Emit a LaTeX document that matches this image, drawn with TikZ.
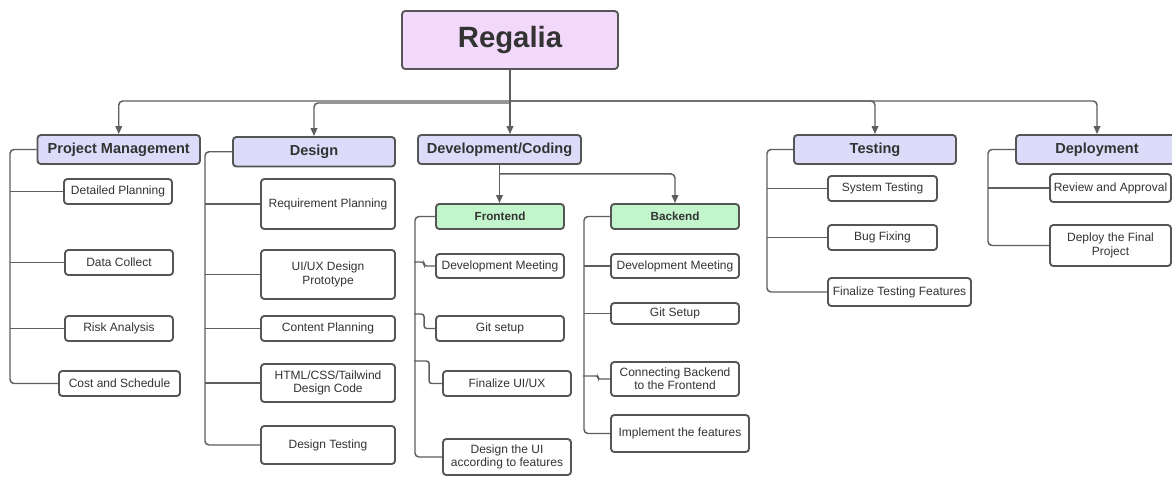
\documentclass[tikz,border=0pt]{standalone}
\usepackage{fontspec}
\setmainfont{Liberation Sans}
\usetikzlibrary{arrows.meta,calc}
\definecolor{ink}{HTML}{333333}
\definecolor{edge}{HTML}{555555}
\definecolor{wirec}{HTML}{5E5E5E}
\definecolor{rootfill}{HTML}{F2D8FA}
\definecolor{phasefill}{HTML}{DCDCFA}
\definecolor{subfill}{HTML}{C2F5CC}
\tikzset{
  sz/.style 2 args={minimum width=#1*0.75pt, minimum height=#2*0.75pt},
  boxbase/.style={draw=edge, line width=1.4pt, rounded corners=2.5pt, fill=white,
    text=ink, inner sep=1pt, align=center},
  task/.style={boxbase, font=\fontsize{9}{10}\selectfont},
  phase/.style={boxbase, fill=phasefill, font=\fontsize{10.9}{12}\selectfont\bfseries},
  subbox/.style={boxbase, fill=subfill, font=\fontsize{8.8}{10}\selectfont\bfseries},
  rootbox/.style={boxbase, fill=rootfill, font=\fontsize{22}{26}\selectfont\bfseries},
  wire/.style={draw=wirec, line width=1.1pt, rounded corners=3pt},
  feed/.style={wire, -{Triangle[length=6pt,width=5pt]}},
}
\begin{document}
\begin{tikzpicture}[x=0.75pt, y=-0.75pt]
\useasboundingbox[fill=white] (0,0) rectangle (1172,476);

% root and phases
\node[rootbox, sz={216}{58}] (root) at (510,40) {Regalia};
\node[phase, sz={162.5}{29}] (pm)  at (118.75,149.5) {Project Management};
\node[phase, sz={162}{29.5}] (des) at (314,151.75) {Design};
\node[phase, sz={163}{29}]   (dev) at (499.5,149.5) {Development/Coding};
\node[phase, sz={162}{29}]   (tst) at (875,149.5) {Testing};
\node[phase, sz={162}{29}]   (dep) at (1097,149.5) {Deployment};

% project management tasks
\node[task, sz={108}{25}] (pm1) at (118,191.5) {Detailed Planning};
\node[task, sz={108}{25}] (pm2) at (119,262.5) {Data Collect};
\node[task, sz={108}{25}] (pm3) at (119,328.5) {Risk Analysis};
\node[task, sz={121}{25}] (pm4) at (119.5,383.5) {Cost and Schedule};

% design tasks
\node[task, sz={134}{50}] (des1) at (328,204) {Requirement Planning};
\node[task, sz={134}{49}] (des2) at (328,274.5) {UI/UX Design\\Prototype};
\node[task, sz={134}{25}] (des3) at (328,328.5) {Content Planning};
\node[task, sz={134}{38}] (des4) at (328,383) {HTML/CSS/Tailwind\\Design Code};
\node[task, sz={134}{38}] (des5) at (328,445) {Design Testing};

% development sub-phases
\node[subbox, sz={128}{25}] (fe) at (500,216.5) {Frontend};
\node[subbox, sz={128}{25}] (be) at (675,216.5) {Backend};

\node[task, sz={128}{24}] (fe1) at (500,266) {Development Meeting};
\node[task, sz={128}{25}] (fe2) at (500,328.5) {Git setup};
\node[task, sz={128}{25}] (fe3) at (507,383.5) {Finalize UI/UX};
\node[task, sz={128}{36}] (fe4) at (507,457) {Design the UI\\according to features};

\node[task, sz={128}{24}] (be1) at (675,266) {Development Meeting};
\node[task, sz={128}{21}] (be2) at (675,313.5) {Git Setup};
\node[task, sz={128}{34}] (be3) at (675,379) {Connecting Backend\\to the Frontend};
\node[task, sz={138}{37}] (be4) at (680,433.5) {Implement the features};

% testing tasks
\node[task, sz={109}{25}] (t1) at (882.5,188.5) {System Testing};
\node[task, sz={109}{25}] (t2) at (882.5,237.5) {Bug Fixing};
\node[task, sz={143}{28}] (t3) at (899.5,292) {Finalize Testing Features};

% deployment tasks
\node[task, sz={121}{28}] (d1) at (1110.5,188) {Review and Approval};
\node[task, sz={121}{41}] (d2) at (1110.5,245.5) {Deploy the Final\\Project};

% rail positions
\coordinate (bus) at (510,101);
\coordinate (bus2) at (510,103);
\coordinate (pmx) at (10,0);
\coordinate (desx) at (205,0);
\coordinate (fex) at (415,0);
\coordinate (bex) at (584,0);
\coordinate (tstx) at (767,0);
\coordinate (depx) at (988,0);
\coordinate (split) at ($(dev.south)+(0,9)$);

% root to phases
\draw[wire] (root.south) -- (bus);
\draw[feed] (bus) -| (pm.north);
\draw[feed] (bus2) -| (des.north);
\draw[feed] (bus) -- (bus |- dev.north);
\draw[feed] (bus) -| (tst.north);
\draw[feed] (bus) -| (dep.north);

% development to sub-phases
\draw[feed] (dev.south) -- (dev.south |- fe.north);
\draw[feed] (split) -| (be.north);

% project management rail
\draw[wire] (pm.west) -| (pmx |- pm4.west) -- (pm4.west);
\foreach \n in {pm1,pm2,pm3} \draw[wire] (\n.west) -- (\n.west -| pmx);

% design rail
\draw[wire] (des.west) -| (desx |- des5.west) -- (des5.west);
\foreach \n in {des1,des2,des3,des4} \draw[wire] (\n.west) -- (\n.west -| desx);

% frontend rail
\draw[wire] (fe.west) -| (fex |- fe4.west) -- (fe4.west);
\draw[wire, rounded corners=2pt] (fe1.west) -- ++(-11,0) -- ++(0,-4) -- ++(-10,0);
\draw[wire, rounded corners=2pt] (fe2.west) -- ++(-11,0) -- ++(0,-14.5) -- ++(-10,0);
\draw[wire, rounded corners=2pt] (fe3.west) -- ++(-13,0) -- ++(0,-22.5) -- ++(-15,0);

% backend rail
\draw[wire] (be.west) -| (bex |- be4.west) -- (be4.west);
\foreach \n in {be1,be2} \draw[wire] (\n.west) -- (\n.west -| bex);
\draw[wire, rounded corners=1.5pt] (be3.west) -- ++(-12,0) -- ++(0,-3) -- ++(-15,0);

% testing rail
\draw[wire] (tst.west) -| (tstx |- t3.west) -- (t3.west);
\foreach \n in {t1,t2} \draw[wire] (\n.west) -- (\n.west -| tstx);

% deployment rail
\draw[wire] (dep.west) -| (depx |- d2.west) -- (d2.west);
\draw[wire] (d1.west) -- (d1.west -| depx);
\end{tikzpicture}
\end{document}
